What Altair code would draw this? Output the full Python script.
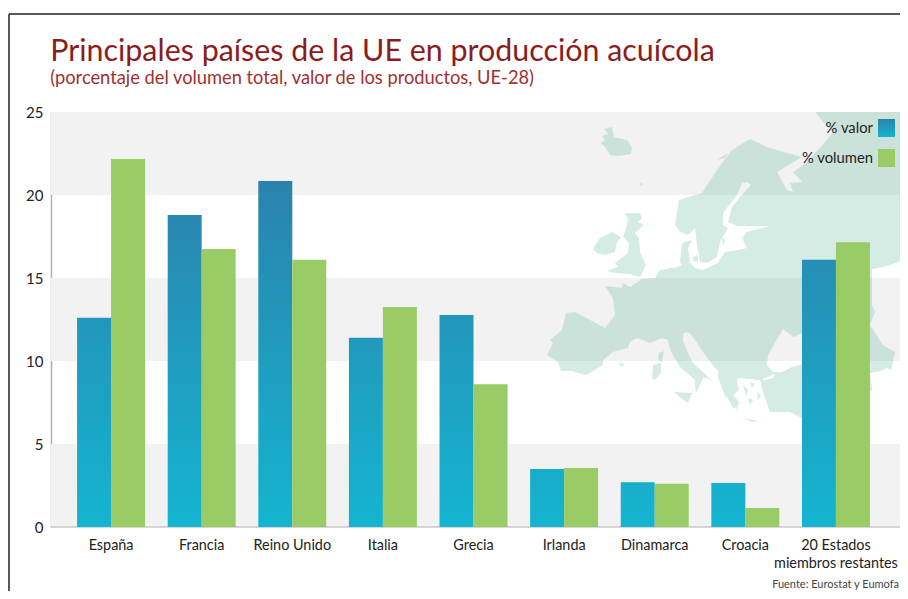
import altair as alt
import pandas as pd

countries = ["España", "Francia", "Reino Unido", "Italia", "Grecia", "Irlanda", "Dinamarca", "Croacia",
             "20 Estados\nmiembros restantes"]
valor = [12.6, 18.8, 20.85, 11.4, 12.77, 3.5, 2.7, 2.65, 16.1]
volumen = [22.17, 16.75, 16.1, 13.25, 8.6, 3.55, 2.6, 1.15, 17.15]
series = ["% valor", "% volumen"]
band_low = [0, 10, 20]
band_high = [5, 15, 25]

# Map silhouette (outline units, y downwards)
mainland = [[815,112],[900,112],[900,261],[893,264],[883,267],[872,269],[872,305],[875,312],[870,325],[883,345],
 [895,352],[893,362],[891,370],[887,368],[880,371],[870,373],[872,390],[850,412],[805,420],[790,412],[770,412],
 [763,392],[760,380],[738,378],[737,383],[739,390],[733,395],[739,402],[737,409],[732,407],[728,398],[725,396],
 [722,388],[718,378],[718,370],[715,368],[703,352],[697,343],[690,333],[686,332],[683,334],[683,341],[688,353],
 [693,363],[703,372],[712,381],[707,378],[703,378],[700,385],[696,393],[695,385],[695,380],[680,367],[670,350],
 [668,340],[662,338],[650,343],[637,338],[630,342],[628,348],[613,352],[603,360],[603,365],[590,373],[585,375],
 [572,371],[561,371],[558,362],[547,355],[553,343],[550,340],[562,330],[566,313],[575,312],[605,328],[615,315],
 [613,298],[605,286],[622,288],[623,283],[630,287],[642,279],[655,278],[660,270],[677,267],[682,265],[680,262],
 [682,243],[692,240],[688,248],[690,262],[695,268],[703,270],[718,263],[725,252],[738,250],[747,248],[742,238],
 [747,232],[770,226],[750,226],[737,226],[728,222],[732,207],[740,197],[751,185],[747,182],[742,183],[737,195],
 [723,213],[723,225],[728,228],[720,242],[717,257],[707,263],[700,262],[697,245],[695,228],[688,235],[680,232],
 [675,225],[679,200],[702,193],[717,170],[732,150],[750,139],[767,147],[787,153],[802,157],[777,172],[787,190],
 [793,192],[790,183],[802,182],[793,172],[803,165],[820,148],[833,132],[823,122],[815,112]]
black_sea = [[783,329],[788,333],[794,337],[802,333],[810,340],[810,362],[792,367],[782,372],[773,372],[767,365],
 [768,355],[775,343],[783,329]]
marmara = [[762,379],[775,374],[773,378],[765,380],[762,379]]
islands = [
 [[604,129],[612,127],[614,137],[627,140],[632,147],[631,154],[618,156],[610,155],[605,147],[601,143],[605,140],[602,136],[608,134],[604,129]],
 [[593,249],[600,238],[612,232],[621,237],[617,242],[615,252],[605,255],[597,253],[593,249]],
 [[625,213],[640,213],[642,218],[638,222],[644,225],[635,233],[639,238],[640,252],[646,265],[642,273],[640,277],[630,274],[615,273],[607,271],[618,267],[615,263],[628,253],[629,243],[623,237],[627,225],[628,218],[625,213]],
 [[653,365],[661,363],[661,373],[655,380],[652,378],[653,365]],
 [[659,353],[664,351],[662,362],[658,360],[659,353]],
 [[674,392],[692,393],[688,403],[682,399],[674,392]],
 [[618,363],[624,364],[622,367],[618,363]],
 [[742,418],[758,421],[753,422],[742,418]],
 [[693,257],[698,255],[698,262],[693,261],[693,257]],
 [[717,160],[728,153],[725,158],[717,160]],
 [[640,183],[643,184],[641,186],[640,183]],
 [[743,385],[748,390],[746,396],[743,385]],
 [[750,382],[755,384],[752,388],[750,382]],
 [[748,398],[753,400],[750,405],[748,398]],
 [[757,392],[761,396],[758,400],[757,392]],
 [[722,238],[725,240],[723,246],[722,238]],
]

PLOT_W, PLOT_H = 849, 415
LEFT, TOP = 51, 112


def mix(t):
    low, high = (0x14, 0xb5, 0xd0), (0x2b, 0x82, 0xad)
    return "#%02x%02x%02x" % tuple(round(a + (b - a) * t) for a, b in zip(low, high))


def blue(top):
    return alt.Gradient(gradient="linear", x1=0, y1=1, x2=0, y2=0,
                        stops=[alt.GradientStop(color=mix(0), offset=0),
                               alt.GradientStop(color=mix(top / 20.85), offset=1)])


x_scale = alt.Scale(domain=countries, range=[14.75, 830.25], paddingInner=0.25, paddingOuter=0.125)
y_scale = alt.Scale(domain=[0, 25], nice=False)
off_scale = alt.Scale(domain=series, paddingInner=0, paddingOuter=0)
x_axis = alt.Axis(title=None, ticks=False, domain=False, labelAngle=0, labelFontSize=14.4,
                  labelColor="#222222", labelPadding=11, labelFont="Lato", labelLimit=200, grid=False,
                  labelExpr="split(datum.label, '\\n')", labelLineHeight=18, labelBaseline="top")
y_axis = alt.Axis(title=None, ticks=False, values=[0, 5, 10, 15, 20, 25], domainColor="#b0b0b0", domainWidth=1.5,
                  labelFontSize=15, labelColor="#222222", labelPadding=8, labelFont="Lato", grid=False)

bands = alt.Chart(pd.DataFrame({"a": band_low, "b": band_high})).mark_rect(color="#f2f2f2").encode(
    x=alt.value(0), x2=alt.value(PLOT_W),
    y=alt.Y("a:Q", scale=y_scale, axis=y_axis), y2="b:Q")

features = [{"type": "Feature", "properties": {},
             "geometry": {"type": "Polygon", "coordinates": [mainland, black_sea[::-1], marmara[::-1]]}}]
features += [{"type": "Feature", "properties": {},
              "geometry": {"type": "Polygon", "coordinates": [r]}} for r in islands]
land = alt.Chart(alt.Data(values=features)).mark_geoshape(fill="#56b498", fillOpacity=0.25, stroke=None).project(
    type="identity", scale=1, translate=[-LEFT, -TOP])


def bars(names, vals, s, color):
    df = pd.DataFrame({"pais": names, "serie": s, "v": vals})
    return alt.Chart(df).mark_bar(color=color, clip=False, cornerRadius=0).encode(
        x=alt.X("pais:N", scale=x_scale, axis=x_axis, sort=countries),
        xOffset=alt.XOffset("serie:N", scale=off_scale, sort=series),
        y=alt.Y("v:Q", scale=y_scale, axis=y_axis))


blue_layers = [bars([c], [v], series[0], blue(v)) for c, v in zip(countries, valor)]
green_layer = bars(countries, volumen, series[1], "#99cb66")
baseline = alt.Chart(pd.DataFrame({"k": [0]})).mark_rule(color="#c8c8c8", strokeWidth=1.5).encode(
    x=alt.value(0), x2=alt.value(PLOT_W), y=alt.Y("k:Q", scale=y_scale, axis=y_axis))

# legend and frame
swatch = lambda y0, color: alt.Chart(pd.DataFrame({"k": [0]})).mark_rect(color=color).encode(
    x=alt.value(827), x2=alt.value(844), y=alt.value(y0), y2=alt.value(y0 + 18))
legend_text = lambda s, y0: alt.Chart(pd.DataFrame({"t": [s]})).mark_text(
    align="right", baseline="middle", font="Lato", fontSize=14.8, color="#222222").encode(
    text="t:N", x=alt.value(822), y=alt.value(y0))
source = alt.Chart(pd.DataFrame({"t": ["Fuente: Eurostat y Eumofa"]})).mark_text(
    align="right", baseline="middle", font="Lato", fontSize=11, color="#444444").encode(
    text="t:N", x=alt.value(848), y=alt.value(473))
frame_top = alt.Chart(pd.DataFrame({"k": [0]})).mark_rule(color="#222222", strokeWidth=1.5).encode(
    x=alt.value(-42), x2=alt.value(PLOT_W), y=alt.value(-98))
frame_left = alt.Chart(pd.DataFrame({"k": [0]})).mark_rule(color="#222222", strokeWidth=1.5).encode(
    x=alt.value(-42), y=alt.value(-98), y2=alt.value(480))

chart = alt.layer(
    bands, land, baseline, *blue_layers, green_layer,
    swatch(7, blue(20.85)), swatch(37, "#99cb66"),
    legend_text(series[0], 17), legend_text(series[1], 47),
    source, frame_top, frame_left,
).properties(
    width=PLOT_W, height=PLOT_H,
    title=alt.TitleParams(
        text="Principales países de la UE en producción acuícola",
        subtitle="(porcentaje del volumen total, valor de los productos, UE-28)",
        font="Lato", fontSize=30.4, fontWeight="normal", color="#8c1c1c",
        subtitleFont="Lato", subtitleFontSize=18.3, subtitleColor="#a03030",
        anchor="start", offset=-74, dx=42),
    autosize=alt.AutoSizeParams(type="none"),
    padding={"left": 43, "top": 104, "right": 0, "bottom": 64},
).configure_view(stroke=None)

chart.save("out.html", embed_options={"renderer": "svg", "actions": False})
